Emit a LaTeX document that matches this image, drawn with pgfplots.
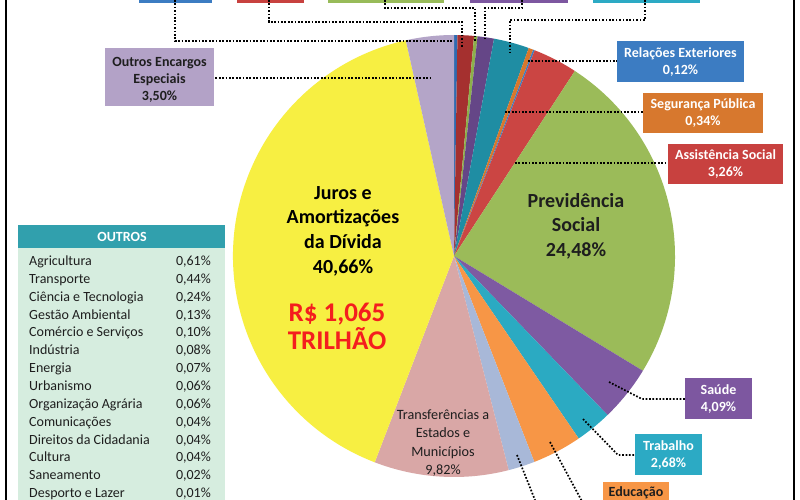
\documentclass[border=0pt]{standalone}
\usepackage{pgfplots}
\usepackage{pgfplotstable}
\pgfplotsset{compat=1.18}
\usepackage{fontspec}
\setmainfont{Carlito}

\definecolor{pie0}{HTML}{2F6BB0}
\definecolor{pie1}{HTML}{A5302F}
\definecolor{pie2}{HTML}{8CB04A}
\definecolor{pie3}{HTML}{654687}
\definecolor{pie4}{HTML}{1F8DA3}
\definecolor{pie5}{HTML}{D9772C}
\definecolor{pie6}{HTML}{3E7CC0}
\definecolor{pie7}{HTML}{CB4543}
\definecolor{pie8}{HTML}{9BBB59}
\definecolor{pie9}{HTML}{7E5AA2}
\definecolor{pie10}{HTML}{2BAAC2}
\definecolor{pie11}{HTML}{F79646}
\definecolor{pie12}{HTML}{A8B8D8}
\definecolor{pie13}{HTML}{D9A7A6}
\definecolor{pie14}{HTML}{F7EF42}
\definecolor{pie15}{HTML}{B4A5C8}
\definecolor{bBlue}{HTML}{3C7CC2}
\definecolor{bOrange}{HTML}{D7782E}
\definecolor{bRed}{HTML}{C8413F}
\definecolor{bGreen}{HTML}{98BB59}
\definecolor{bPurple}{HTML}{7D57A0}
\definecolor{bTeal}{HTML}{2CAAC4}
\definecolor{bEdu}{HTML}{F79646}
\definecolor{bLav}{HTML}{B3A2C7}
\definecolor{tHead}{HTML}{31A0AD}
\definecolor{tBody}{HTML}{D6EDDF}
\definecolor{rsred}{HTML}{F41E1E}
\definecolor{dark}{HTML}{1E1E1E}

\pgfplotstableread{
idx value
0 0.25
1 1.20
2 0.25
3 1.20
4 2.59
5 0.34
6 0.12
7 3.26
8 24.48
9 4.09
10 2.68
11 3.62
12 1.94
13 9.82
14 40.66
15 3.50
}\piedata

\pgfplotstableread{
name value
Agricultura 0,61\%
Transporte 0,44\%
{Ciência e Tecnologia} 0,24\%
{Gestão Ambiental} 0,13\%
{Comércio e Serviços} 0,10\%
Indústria 0,08\%
Energia 0,07\%
Urbanismo 0,06\%
{Organização Agrária} 0,06\%
Comunicações 0,04\%
{Direitos da Cidadania} 0,04\%
Cultura 0,04\%
Saneamento 0,02\%
{Desporto e Lazer} 0,01\%
}\outrosdata

\tikzset{
  lbl/.style={font=\bfseries\fontsize{14}{17}\selectfont, text=white, align=center, inner sep=0pt},
  ldr/.style={black, line width=1.7pt, dash pattern=on 1.7pt off 1.7pt},
  row/.style={font=\fontsize{14}{17}\selectfont, text=dark, inner sep=0pt},
}

\begin{document}
\begin{tikzpicture}
\begin{axis}[width=800pt,height=500pt,scale only axis,
  xmin=0,xmax=800,ymin=0,ymax=500,y dir=reverse,
  hide axis,clip=true]
\addplot[draw=none] coordinates {(0,0) (800,500)};
\fill[white] (axis cs:0,0) rectangle (axis cs:800,500);

% pie slices from the table
\pgfplotstablegetrowsof{\piedata}
\pgfmathtruncatemacro\N{\pgfplotsretval-1}
\def\cum{0}
\pgfplotsforeachungrouped \i in {0,...,\N}{%
  \pgfplotstablegetelem{\i}{value}\of\piedata
  \let\v\pgfplotsretval
  \pgfmathsetmacro\a{90-3.6*\cum}%
  \pgfmathsetmacro\b{90-3.6*(\cum+\v)}%
  \edef\temp{\noexpand\fill[pie\i] (axis cs:454,256) -- ++(\a:221pt) arc[start angle=\a, end angle=\b, radius=221pt] -- cycle;}%
  \temp
  \pgfmathsetmacro\cum{\cum+\v}%
}

% top (cut) boxes
\fill[bBlue] (axis cs:139,-5) rectangle (axis cs:212,3);
\fill[bRed] (axis cs:237,-5) rectangle (axis cs:304,3);
\fill[bGreen] (axis cs:328,-5) rectangle (axis cs:444,3);
\fill[bPurple] (axis cs:470,-5) rectangle (axis cs:568,3);
\fill[bTeal] (axis cs:593,-5) rectangle (axis cs:700,3);

% leaders
\draw[ldr] (axis cs:175,0) -- (axis cs:175,41) -- (axis cs:453,41);
\draw[ldr] (axis cs:269,0) -- (axis cs:269,22) -- (axis cs:462,22) -- (axis cs:462,48);
\draw[ldr] (axis cs:385,0) -- (axis cs:385,8) -- (axis cs:475,8) -- (axis cs:475,42);
\draw[ldr] (axis cs:522,0) -- (axis cs:522,8) -- (axis cs:485,8) -- (axis cs:485,40);
\draw[ldr] (axis cs:645,0) -- (axis cs:645,20) -- (axis cs:510,20) -- (axis cs:510,53);
\draw[ldr] (axis cs:212,78) -- (axis cs:432,78);
\draw[ldr] (axis cs:528,61) -- (axis cs:617,61);
\draw[ldr] (axis cs:505,112) -- (axis cs:643,112);
\draw[ldr] (axis cs:515,163) -- (axis cs:668,163);
\draw[ldr] (axis cs:609,382) -- (axis cs:642,399) -- (axis cs:685,399);
\draw[ldr] (axis cs:583,419) -- (axis cs:618,455) -- (axis cs:635,455);
\draw[ldr] (axis cs:550,442) -- (axis cs:584,505);
\draw[ldr] (axis cs:517,455) -- (axis cs:537,505);

% right boxes
\fill[bBlue] (axis cs:617,41) rectangle (axis cs:744,82);
\node[lbl] at (axis cs:680.5,62) {Relações Exteriores\\0,12\%};
\fill[bOrange] (axis cs:643,93) rectangle (axis cs:763,133);
\node[lbl] at (axis cs:703,113) {Segurança Pública\\0,34\%};
\fill[bRed] (axis cs:668,144) rectangle (axis cs:783,184);
\node[lbl] at (axis cs:725.5,164) {Assistência Social\\3,26\%};
\fill[bPurple] (axis cs:685,378) rectangle (axis cs:752,419);
\node[lbl] at (axis cs:718.5,399) {Saúde\\4,09\%};
\fill[bTeal] (axis cs:635,434) rectangle (axis cs:702,475);
\node[lbl] at (axis cs:668.5,455) {Trabalho\\2,68\%};
\fill[bEdu] (axis cs:603,482) rectangle (axis cs:669,510);
\node[lbl, text=dark, anchor=base] at (axis cs:636,496) {Educação};
\fill[bLav] (axis cs:105,48) rectangle (axis cs:214,106);
\node[lbl, text=dark] at (axis cs:159.5,80) {Outros Encargos\\Especiais\\3,50\%};

% pie texts
\node[font=\bfseries\fontsize{20}{24.6}\selectfont, align=center, text=black, inner sep=0pt] at (axis cs:343,231) {Juros e\\Amortizações\\da Dívida\\40,66\%};
\node[font=\bfseries\fontsize{27}{28}\selectfont, align=center, text=rsred, inner sep=0pt] at (axis cs:337,326) {R\$ 1,065\\TRILHÃO};
\node[font=\bfseries\fontsize{20}{24.6}\selectfont, align=center, text=dark, inner sep=0pt] at (axis cs:576,226) {Previdência\\Social\\24,48\%};
\node[font=\fontsize{14.2}{18.3}\selectfont, align=center, text=dark, inner sep=0pt] at (axis cs:443,443) {Transferências a\\Estados e\\Municípios\\9,82\%};

% OUTROS table
\fill[tBody] (axis cs:18,248) rectangle (axis cs:225,510);
\fill[tHead] (axis cs:18,225) rectangle (axis cs:225,248);
\node[lbl] at (axis cs:122,237) {OUTROS};
\pgfplotsforeachungrouped \k in {0,...,13}{%
  \pgfplotstablegetelem{\k}{name}\of\outrosdata
  \let\nm\pgfplotsretval
  \pgfplotstablegetelem{\k}{value}\of\outrosdata
  \let\vl\pgfplotsretval
  \pgfmathsetmacro\yy{265.5+17.85*\k}%
  \edef\temp{\noexpand\node[row, anchor=base west] at (axis cs:29,\yy) {\unexpanded\expandafter{\nm}};
    \noexpand\node[row, anchor=base east] at (axis cs:211,\yy) {\unexpanded\expandafter{\vl}};}%
  \temp
}

% frame lines
\draw[black, line width=2.5pt] (axis cs:6,0) -- (axis cs:6,500);
\draw[black, line width=2.5pt] (axis cs:794,0) -- (axis cs:794,500);
\end{axis}
\end{tikzpicture}
\end{document}
